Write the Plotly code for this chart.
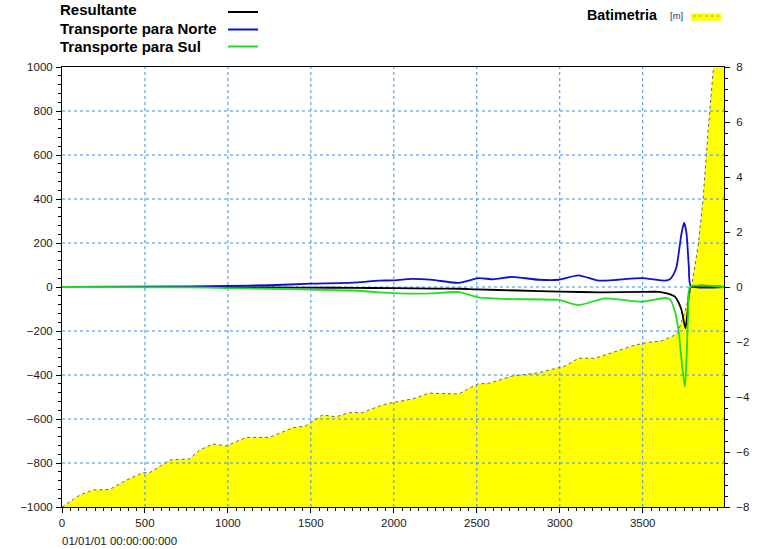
import plotly.graph_objects as go

# ---------------- data ----------------
bathy_x = [0, 108, 188, 288, 389, 488, 529, 649, 769, 829, 909, 990, 1110, 1250, 1390, 1470,
           1570, 1651, 1731, 1811, 1911, 1971, 2111, 2212, 2392, 2502, 2572, 2712, 2873, 3033,
           3113, 3213, 3313, 3433, 3514, 3614, 3694, 3714, 3754, 3794, 3834, 3864, 3894, 3924, 3990]
bathy_y = [-8.0, -7.56, -7.38, -7.36, -7.02, -6.75, -6.75, -6.29, -6.25, -5.93, -5.71, -5.78, -5.47,
           -5.47, -5.12, -5.05, -4.65, -4.72, -4.57, -4.57, -4.33, -4.23, -4.07, -3.86, -3.89, -3.53,
           -3.50, -3.24, -3.12, -2.87, -2.59, -2.59, -2.39, -2.15, -2.03, -1.96, -1.75, -1.62, -0.9,
           0.0, 1.5, 3.2, 5.65, 8.0, 12.5]

res_x = [0, 770, 1000, 1250, 1500, 1750, 2000, 2250, 2400, 2500, 2750, 3000, 3250, 3500, 3600,
         3640, 3670, 3694, 3714, 3734, 3758, 3772, 3790, 3990]
res_y = [0, 0, -1, -2, -3, -4, -5, -7, -8, -11, -16, -21, -24, -22, -22, -28, -35, -44, -67, -105,
         -188, -100, 0, 0]

norte_x = [0, 770, 1000, 1250, 1500, 1750, 1911, 1991, 2111, 2232, 2392, 2512, 2600, 2712, 2873,
           2993, 3113, 3233, 3350, 3494, 3634, 3664, 3684, 3704, 3734, 3750, 3764, 3778, 3790, 3990]
norte_y = [0, 3, 5, 8, 15, 20, 29, 30, 37, 32, 19, 40, 35, 46, 33, 33, 53, 29, 33, 40, 29, 35, 55,
           92, 244, 292, 244, 92, 5, 0]

sul_x = [0, 770, 1000, 1250, 1500, 1750, 1911, 2111, 2232, 2392, 2512, 2712, 2993, 3113, 3273,
         3494, 3634, 3664, 3698, 3718, 3738, 3754, 3764, 3774, 3786, 3990]
sul_y = [0, -2, -5, -8, -12, -16, -24, -30, -29, -23, -47, -55, -59, -82, -52, -67, -50, -56, -120,
         -210, -362, -453, -332, -120, 0, 0]

x_ticks = [0, 500, 1000, 1500, 2000, 2500, 3000, 3500]
y_left_ticks = [-1000, -800, -600, -400, -200, 0, 200, 400, 600, 800, 1000]
y_right_ticks = [-8, -6, -4, -2, 0, 2, 4, 6, 8]

X_RANGE = [0, 3990]
YL_RANGE = [-1000, 1000]
YR_RANGE = [-8, 8]

FONT = "Arial, Liberation Sans, sans-serif"
GRID = "#3f8fdc"
TXT = "#1a1a1a"

fig = go.Figure()

# bathymetry on main (right) axis
fig.add_trace(go.Scatter(x=bathy_x, y=[YR_RANGE[0]] * len(bathy_x), mode="lines",
                         line=dict(width=0), hoverinfo="skip", showlegend=False,
                         xaxis="x", yaxis="y"))
fig.add_trace(go.Scatter(x=bathy_x, y=bathy_y, mode="lines", fill="tonexty",
                         fillcolor="#ffff00", line=dict(color="#666666", width=1, dash="dot"),
                         name="Batimetria", showlegend=False, xaxis="x", yaxis="y"))

# grid lines drawn on overlay subplot (above the fill, below the series)
gx, gy = [], []
for t in x_ticks[1:]:
    gx += [t, t, None]
    gy += [YL_RANGE[0], YL_RANGE[1], None]
for t in y_left_ticks[1:-1]:
    gx += [X_RANGE[0], X_RANGE[1], None]
    gy += [t, t, None]
fig.add_trace(go.Scatter(x=gx, y=gy, mode="lines", line=dict(color=GRID, width=1, dash="3px,3px"),
                         hoverinfo="skip", showlegend=False, xaxis="x", yaxis="y2"))

fig.add_trace(go.Scatter(x=res_x, y=res_y, mode="lines",
                         line=dict(color="#000000", width=1.8, shape="spline", smoothing=0.6),
                         name="Resultante", showlegend=False, xaxis="x", yaxis="y2"))
fig.add_trace(go.Scatter(x=norte_x, y=norte_y, mode="lines",
                         line=dict(color="#1010cc", width=1.8, shape="spline", smoothing=0.6),
                         name="Transporte para Norte", showlegend=False, xaxis="x", yaxis="y2"))
fig.add_trace(go.Scatter(x=sul_x, y=sul_y, mode="lines",
                         line=dict(color="#22dd22", width=1.8, shape="spline", smoothing=0.6),
                         name="Transporte para Sul", showlegend=False, xaxis="x", yaxis="y2"))

tickfont = dict(family=FONT, size=11.5, color=TXT)
axis_common = dict(showgrid=False, zeroline=False, showline=True, linecolor="black", linewidth=1,
                   ticks="outside", ticklen=5, tickcolor="black", tickfont=tickfont)

fig.update_layout(
    width=766, height=549,
    margin=dict(l=62, r=42, t=67, b=42),
    paper_bgcolor="white", plot_bgcolor="white",
    showlegend=False,
    xaxis=dict(range=X_RANGE, tickvals=x_ticks, mirror=True,
               minor=dict(dtick=50, tick0=0, ticks="outside", ticklen=3, tickcolor="black"),
               **axis_common),
    yaxis=dict(range=YR_RANGE, tickvals=y_right_ticks, side="right",
               minor=dict(dtick=0.4, tick0=0, ticks="outside", ticklen=3, tickcolor="black"),
               ticklabelstandoff=4, **axis_common),
    yaxis2=dict(range=YL_RANGE, tickvals=y_left_ticks, side="left", overlaying="y",
                minor=dict(dtick=40, tick0=0, ticks="outside", ticklen=3, tickcolor="black"),
                ticklabelstandoff=1, **axis_common),
)

# ---------- legend (custom, as in reference) ----------
W, H, L, T = 662.0, 440.0, 62.0, 67.0
def px(x):
    return (x - L) / W
def py(y):
    return (T + H - y) / H

leg_items = [("Resultante", "#000000", 10, 12),
             ("Transporte para Norte", "#1010cc", 28, 29.5),
             ("Transporte para Sul", "#22dd22", 46, 46.5)]
for label, col, ty, ly in leg_items:
    fig.add_annotation(xref="paper", yref="paper", x=px(58), y=py(ty), xanchor="left",
                       yanchor="middle", text=label, showarrow=False,
                       font=dict(family=FONT, size=15, color="black", weight="bold"))
    fig.add_shape(type="line", xref="paper", yref="paper", x0=px(228), x1=px(258),
                  y0=py(ly), y1=py(ly), line=dict(color=col, width=2))

fig.add_annotation(xref="paper", yref="paper", x=px(585), y=py(15), xanchor="left",
                   yanchor="middle", text="Batimetria", showarrow=False,
                   font=dict(family=FONT, size=14.3, color="black", weight="bold"))
fig.add_annotation(xref="paper", yref="paper", x=px(668), y=py(16), xanchor="left",
                   yanchor="middle", text="[m]", showarrow=False,
                   font=dict(family=FONT, size=9.5, color="#333333"))
fig.add_shape(type="rect", xref="paper", yref="paper", x0=px(691), x1=px(721),
              y0=py(20.7), y1=py(13.3), fillcolor="#ffff00", line=dict(width=0))
fig.add_shape(type="line", xref="paper", yref="paper", x0=px(693), x1=px(719),
              y0=py(16), y1=py(16), line=dict(color="#999999", width=1, dash="dot"))

fig.add_annotation(xref="paper", yref="paper", x=px(60), y=py(541), xanchor="left",
                   yanchor="middle", text="01/01/01 00:00:00:000", showarrow=False,
                   font=dict(family=FONT, size=11.5, color=TXT))

# remove the default 8px page margin so the figure sits at the window's top-left
fig.write_html("out.html", config=dict(displayModeBar=False),
               post_script="document.body.style.margin='0';document.body.style.overflow='hidden';")
